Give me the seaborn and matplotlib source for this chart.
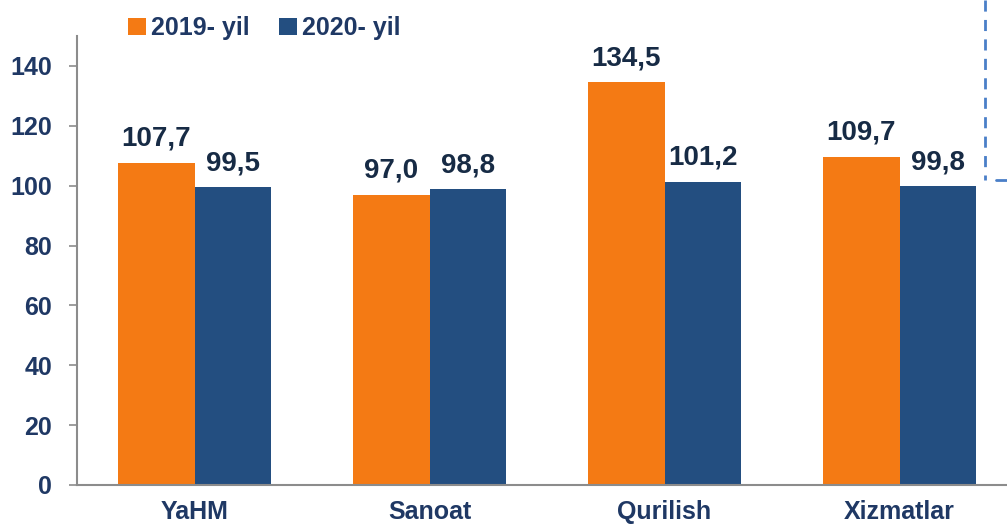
import pandas as pd
import matplotlib.pyplot as plt
import seaborn as sns
from matplotlib.lines import Line2D

categories = ['YaHM', 'Sanoat', 'Qurilish', 'Xizmatlar']
y2019 = [107.7, 97.0, 134.5, 109.7]
y2020 = [99.5, 98.8, 101.2, 99.8]
series = ['2019- yil', '2020- yil']

df = pd.DataFrame({
    'cat': categories * 2,
    'year': [series[0]] * 4 + [series[1]] * 4,
    'val': y2019 + y2020,
})

sns.set_style('white')
plt.rcParams['font.family'] = ['Liberation Sans', 'DejaVu Sans']

navy = '#1F3864'
lbl = '#172B45'
colors = ['#F47A14', '#234E80']

fig = plt.figure(figsize=(10.07, 5.27), dpi=100)
ax = fig.add_axes([77 / 1007, 1 - 485 / 527, 940 / 1007, (485 - 36) / 527])

sns.barplot(data=df, x='cat', y='val', hue='year', palette=colors,
            width=0.655, ax=ax, saturation=1, edgecolor='none')

ax.set_ylim(0, 150)
ax.set_xlim(-0.5, 3.5)
ax.set_yticks(range(0, 141, 20))
ax.set_xlabel('')
ax.set_ylabel('')

for c in ax.containers:
    ax.bar_label(c, labels=[f'{v:.1f}'.replace('.', ',') for v in c.datavalues],
                 padding=8, fontsize=20, fontweight='bold', color=lbl)

for s in ['top', 'right']:
    ax.spines[s].set_visible(False)
for s in ['left', 'bottom']:
    ax.spines[s].set_color('#8C8C8C')
    ax.spines[s].set_linewidth(1.5)

ax.tick_params(axis='y', which='both', left=True, length=6, width=1.2, color='#8C8C8C',
               labelsize=18, labelcolor=navy, pad=12)
ax.tick_params(axis='x', bottom=False, labelsize=18, labelcolor=navy, pad=7)
for t in ax.get_yticklabels() + ax.get_xticklabels():
    t.set_fontweight('bold')

leg = ax.legend(loc='upper left', bbox_to_anchor=(112 / 1007, 1.0), bbox_transform=fig.transFigure,
                ncol=2, frameon=False, handlelength=0.7, handleheight=0.7,
                handletextpad=0.2, columnspacing=1.2, borderaxespad=0.25,
                prop={'size': 18, 'weight': 'bold'})
for t in leg.get_texts():
    t.set_color(navy)

# dashed connector at the right edge
fig.add_artist(Line2D([985 / 1007, 985 / 1007], [1.0, 1 - 180 / 527], transform=fig.transFigure,
                      color='#4A7FC8', lw=2, ls=(0, (4, 3))))
fig.add_artist(Line2D([996 / 1007, 1.0], [1 - 180 / 527, 1 - 180 / 527], transform=fig.transFigure,
                      color='#4A7FC8', lw=2))

fig.savefig('out.png', dpi=100)
